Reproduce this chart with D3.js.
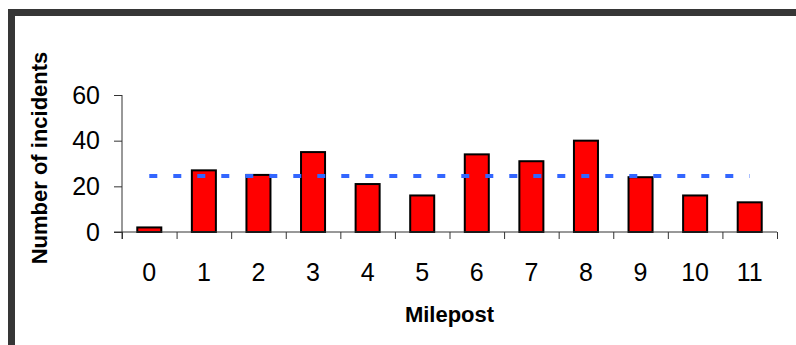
<!DOCTYPE html>
<html>
<head>
<meta charset="utf-8">
<script src="https://cdn.jsdelivr.net/npm/d3@7"></script>
<style>
  body { margin: 0; background: #fff; }
  svg { display: block; font-family: Arial, "Liberation Sans", sans-serif; }
</style>
</head>
<body>
<svg id="chart" width="796" height="345"></svg>
<script>
var mileposts = ["0","1","2","3","4","5","6","7","8","9","10","11"];
var incidents = [2, 27, 25, 35, 21, 16, 34, 31, 40, 24, 16, 13];
var yTicks = [0, 20, 40, 60];
var avgLine = 24.5;

var svg = d3.select("#chart"),
    plotLeft = 122, plotRight = 777, plotTop = 95, plotBottom = 232;

// frame (top + left edges only)
var frame = "#363636";
svg.append("rect").attr("x", 8).attr("y", 9).attr("width", 788).attr("height", 7).attr("fill", frame);
svg.append("rect").attr("x", 8).attr("y", 9).attr("width", 7).attr("height", 336).attr("fill", frame);

var x = d3.scaleBand().domain(mileposts).range([plotLeft, plotRight]).paddingInner(0.56).paddingOuter(0.28);
var y = d3.scaleLinear().domain([0, 60]).range([plotBottom, plotTop]);
var edges = d3.scaleLinear().domain([0, mileposts.length]).range([plotLeft, plotRight]);

// bars
svg.append("g").selectAll("rect").data(incidents).enter().append("rect")
    .attr("x", function (d, i) { return x(mileposts[i]); })
    .attr("y", function (d) { return y(d); })
    .attr("width", x.bandwidth())
    .attr("height", function (d) { return y(0) - y(d); })
    .attr("fill", "#ff0000")
    .attr("stroke", "#000")
    .attr("stroke-width", 2);

// y axis
var yAxis = svg.append("g").attr("transform", "translate(" + plotLeft + ",0)")
    .call(d3.axisLeft(y).tickValues(yTicks).tickSize(8).tickPadding(14));
yAxis.select(".domain").attr("d", "M0," + plotTop + "V" + (plotBottom + 7));
yAxis.selectAll("text").attr("font-size", 25).attr("fill", "#000");

// x axis: boundary ticks
var xEdges = svg.append("g").attr("transform", "translate(0," + plotBottom + ")")
    .call(d3.axisBottom(edges).tickValues(d3.range(mileposts.length + 1)).tickSize(7).tickFormat(""));
xEdges.select(".domain").attr("d", "M" + (plotLeft - 8) + ",0H" + plotRight);

// x axis: labels
var xAxis = svg.append("g").attr("transform", "translate(0," + plotBottom + ")")
    .call(d3.axisBottom(x).tickSize(0));
xAxis.select(".domain").remove();
xAxis.selectAll("text").attr("y", 49).attr("dy", 0).attr("font-size", 25).attr("fill", "#000");

svg.selectAll(".tick line, .domain").attr("stroke", "#333");

// average line
svg.append("line")
    .attr("x1", x(mileposts[0]) + x.bandwidth() / 2)
    .attr("x2", x(mileposts[mileposts.length - 1]) + x.bandwidth() / 2)
    .attr("y1", y(avgLine)).attr("y2", y(avgLine))
    .attr("stroke", "#3366ff")
    .attr("stroke-width", 4)
    .attr("stroke-dasharray", "8,16");

// titles
svg.append("text").attr("x", (plotLeft + plotRight) / 2).attr("y", 322)
    .attr("text-anchor", "middle").attr("font-size", 22).attr("font-weight", "bold")
    .text("Milepost");

svg.append("text").attr("transform", "translate(47,158) rotate(-90)")
    .attr("text-anchor", "middle").attr("font-size", 22).attr("font-weight", "bold")
    .text("Number of incidents");
</script>
</body>
</html>
